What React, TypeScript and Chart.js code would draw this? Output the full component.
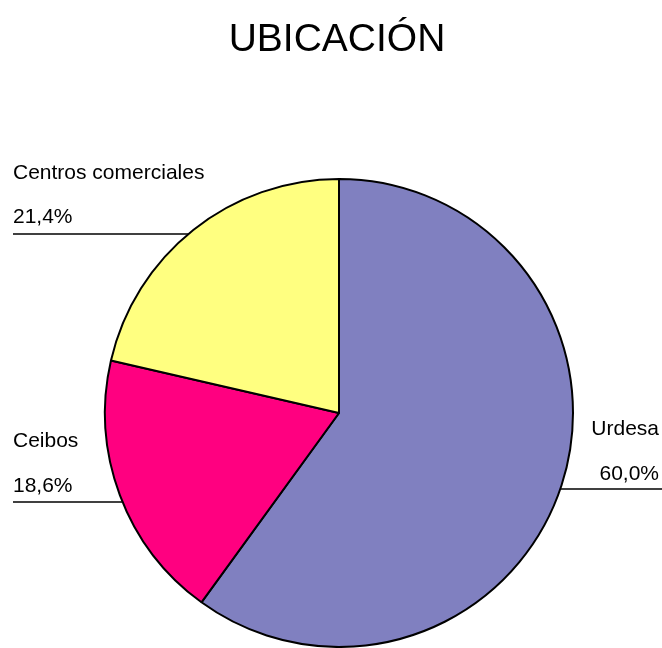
import React, { useEffect, useRef } from "react";
import { Chart, registerables } from "chart.js";

Chart.register(...registerables);

const TITLE = "UBICACIÓN";
const categories = ["Urdesa", "Ceibos", "Centros comerciales"];
const values = [60.0, 18.6, 21.4];
const valueLabels = ["60,0%", "18,6%", "21,4%"];
const colors = ["#8080C0", "#FF0080", "#FFFF80"];

// label placement: side, x anchor, name baseline, value baseline, leader line y
const labelLayout = [
  { side: "right", x: 659, nameY: 435, valueY: 480, lineY: 489 },
  { side: "left", x: 13, nameY: 447, valueY: 492, lineY: 502 },
  { side: "left", x: 13, nameY: 179, valueY: 223, lineY: 234 },
];

const FONT = '"Liberation Sans", Arial, sans-serif';

const labelPlugin = {
  id: "leaderLabels",
  beforeDatasetsDraw(chart: any) {
    const meta = chart.getDatasetMeta(0);
    const arc = meta.data[0];
    if (!arc) return;
    const { x: cx, y: cy, outerRadius: r } = arc.getProps(["x", "y", "outerRadius"], true);
    const ctx = chart.ctx;
    ctx.save();
    ctx.strokeStyle = "#000";
    ctx.lineWidth = 1.5;
    labelLayout.forEach((l) => {
      const dy = l.lineY - cy;
      const dx = Math.sqrt(Math.max(r * r - dy * dy, 0));
      const edge = l.side === "right" ? cx + dx - 2 : cx - dx + 2;
      const end = l.side === "right" ? 662 : l.x;
      ctx.beginPath();
      ctx.moveTo(edge, l.lineY);
      ctx.lineTo(end, l.lineY);
      ctx.stroke();
    });
    ctx.restore();
  },
  afterDraw(chart: any) {
    const ctx = chart.ctx;
    ctx.save();
    ctx.fillStyle = "#000";
    ctx.textBaseline = "alphabetic";
    ctx.font = `39px ${FONT}`;
    ctx.textAlign = "center";
    ctx.fillText(TITLE, 337, 51);
    ctx.font = `21px ${FONT}`;
    labelLayout.forEach((l, i) => {
      ctx.textAlign = l.side === "right" ? "right" : "left";
      ctx.fillText(categories[i], l.x, l.nameY);
      ctx.fillText(valueLabels[i], l.x, l.valueY);
    });
    ctx.restore();
  },
};

export default function App() {
  const ref = useRef<HTMLCanvasElement>(null);
  useEffect(() => {
    if (!ref.current) return;
    const chart = new Chart(ref.current, {
      type: "pie",
      data: {
        labels: categories,
        datasets: [
          {
            data: values,
            backgroundColor: colors,
            borderColor: "#000",
            borderWidth: 2,
          },
        ],
      },
      options: {
        responsive: false,
        animation: false,
        layout: { padding: { left: 104, right: 88, top: 178, bottom: 0 } },
        plugins: {
          legend: { display: false },
          tooltip: { enabled: false },
          title: { display: false },
        },
      },
      plugins: [labelPlugin],
    });
    return () => chart.destroy();
  }, []);
  return (
    <div style={{ position: "absolute", left: 0, top: 0, width: 662, height: 648, background: "#fff" }}>
      <canvas ref={ref} width={662} height={648} style={{ display: "block" }} />
    </div>
  );
}
